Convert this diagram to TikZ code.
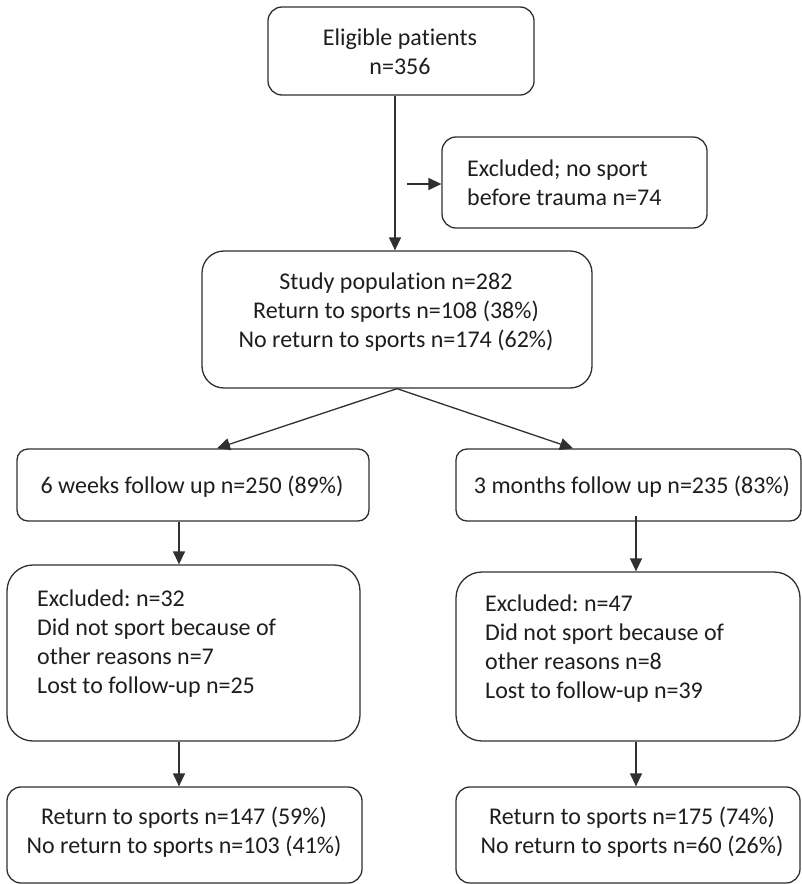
\documentclass[tikz,border=0pt]{standalone}
\usepackage{fontspec}
\setmainfont{Carlito}[Ligatures={NoCommon,NoRare,NoContextual}]
\usetikzlibrary{arrows.meta,calc}
\definecolor{ln}{HTML}{303030}
\definecolor{tx}{HTML}{1E1E1E}
\frenchspacing
\begin{document}
\begin{tikzpicture}[x=1pt,y=-1pt,
  box/.style={draw=ln,line width=1.3pt,rounded corners=#1,minimum width=\bw,minimum height=\bh,inner sep=0pt},
  box/.default=12pt,
  lbl/.style={text=tx,font=\fontsize{24}{29}\selectfont,inner sep=0pt,align=center},
  lbll/.style={text=tx,font=\fontsize{24}{29}\selectfont,inner sep=0pt,align=left,anchor=west},
  arr/.style={draw=ln,line width=1.3pt,-{Triangle[length=13pt,width=12pt]}}]
\useasboundingbox (0,0) rectangle (802,884);
\fill[white] (0,0) rectangle (802,884);
\def\bw{266pt}\def\bh{88pt}
\node[box=14pt] (e) at (401,51) {};
\def\bw{265pt}\def\bh{91pt}
\node[box=14pt] (x) at (574.5,182.5) {};
\def\bw{390pt}\def\bh{137pt}
\node[box=22pt] (s) at (397,319.5) {};
\def\bw{352pt}\def\bh{72pt}
\node[box=11pt] (w) at (193,485) {};
\def\bw{345pt}\def\bh{72pt}
\node[box=11pt] (m) at (628.5,485) {};
\def\bw{353pt}\def\bh{176pt}
\node[box=26pt] (el) at (183.5,653) {};
\def\bw{344pt}\def\bh{169pt}
\node[box=26pt] (mr) at (628,656.5) {};
\def\bw{355pt}\def\bh{96pt}
\node[box=14pt] (bl) at (184.5,835) {};
\def\bw{344pt}\def\bh{96pt}
\node[box=14pt] (br) at (628,835) {};
% texts
\node[lbl] (te) at (400,52) {Eligible patients\\n=356};
\node[lbll] (tx) at (467,183) {Excluded; no sport\\before trauma n=74};
\node[lbl] (ts) at (396,312) {Study population n=282\\Return to sports n=108 (38\%)\\No return to sports n=174 (62\%)};
\node[lbl] (tw) at (192,487) {6 weeks follow up n=250 (89\%)};
\node[lbl] (tm) at (632,487) {3 months follow up n=235 (83\%)};
\node[lbll] (tel) at (37,644) {Excluded: n=32\\Did not sport because of\\other reasons n=7\\Lost to follow-up n=25};
\node[lbll] (tmr) at (485,649) {Excluded: n=47\\Did not sport because of\\other reasons n=8\\Lost to follow-up n=39};
\node[lbl] (tbl) at (184,832) {Return to sports n=147 (59\%)\\No return to sports n=103 (41\%)};
\node[lbl] (tbr) at (632,832) {Return to sports n=175 (74\%)\\No return to sports n=60 (26\%)};
% connectors
\coordinate (xs) at (407,184);
\draw[arr] ([xshift=-6pt]e.south) -- ([xshift=-2pt]s.north);
\draw[arr] (xs) -- (xs -| x.west);
\draw[arr] (s.south) -- ([xshift=24pt]w.north);
\draw[arr] (s.south) -- ([xshift=-55.5pt]m.north);
\draw[arr] ([xshift=-14pt]w.south) -- ([xshift=-4.5pt]el.north);
\draw[arr] ([xshift=7.5pt,yshift=6pt]m.south) -- ([xshift=8pt]mr.north);
\draw[arr] ([xshift=-4.5pt]el.south) -- ([xshift=-5.5pt]bl.north);
\draw[arr] ([xshift=8pt]mr.south) -- ([xshift=8pt]br.north);
\end{tikzpicture}
\end{document}
